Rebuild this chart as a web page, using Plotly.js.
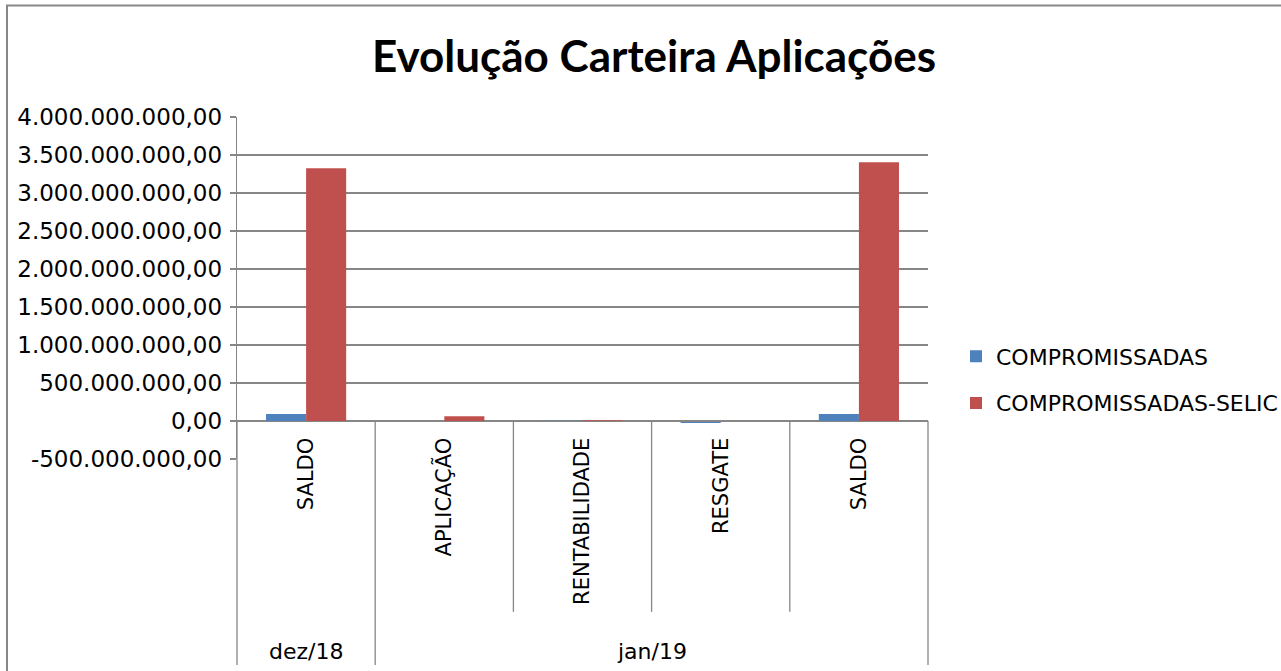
<!DOCTYPE html>
<html>
<head>
<meta charset="utf-8">
<script src="https://cdn.plot.ly/plotly-3.0.1.min.js"></script>
<style>
  html, body { margin: 0; padding: 0; background: #ffffff; }
  #chart { width: 1281px; height: 671px; }
</style>
</head>
<body>
<div id="chart"></div>
<script>
// ---- data ----
const categories = ['SALDO', 'APLICAÇÃO', 'RENTABILIDADE', 'RESGATE', 'SALDO'];
const groupLabels = ['dez/18', 'jan/19'];
const groupSizes = [1, 4];
const seriesNames = ['COMPROMISSADAS', 'COMPROMISSADAS-SELIC'];
const compromissadas = [92000000, 0, 4000000, -25000000, 92000000];
const compromissadasSelic = [3325000000, 62000000, 9000000, -4000000, 3404000000];
const yTickValues = [-500000000, 0, 500000000, 1000000000, 1500000000, 2000000000, 2500000000, 3000000000, 3500000000, 4000000000];
const yTickLabels = ['-500.000.000,00', '0,00', '500.000.000,00', '1.000.000.000,00', '1.500.000.000,00',
  '2.000.000.000,00', '2.500.000.000,00', '3.000.000.000,00', '3.500.000.000,00', '4.000.000.000,00'];
const colors = ['#4F81BD', '#C0504D'];

// ---- build ----
const xIdx = categories.map((c, i) => i);
const yMin = yTickValues[0];
const yMax = yTickValues[yTickValues.length - 1];
const zeroFrac = (0 - yMin) / (yMax - yMin);
const n = categories.length;
const gridColor = '#868686';
const fontFam = 'DejaVu Sans, sans-serif';

const traces = [compromissadas, compromissadasSelic].map((vals, k) => ({
  type: 'bar',
  name: seriesNames[k],
  x: xIdx,
  y: vals,
  marker: { color: colors[k], line: { width: 0 } },
  legendgroup: 'g' + k,
  hoverinfo: 'x+y+name'
}));

const shapes = [];
const annotations = [];
// category dividers
let start = 0;
const groupBounds = new Set([0]);
groupSizes.forEach(s => { start += s; groupBounds.add(start); });
for (let i = 0; i <= n; i++) {
  const isGroup = groupBounds.has(i);
  shapes.push({
    type: 'line', xref: 'paper', yref: 'paper',
    x0: i / n, x1: i / n,
    y0: zeroFrac, y1: isGroup ? -0.602 : -0.447,
    line: { color: gridColor, width: 1.3 }
  });
}
// group labels
start = 0;
groupLabels.forEach((g, k) => {
  const center = (start + groupSizes[k] / 2) / n;
  start += groupSizes[k];
  annotations.push({
    text: g, xref: 'paper', yref: 'paper', x: center, y: -0.564,
    xanchor: 'center', yanchor: 'middle', showarrow: false,
    font: { family: fontFam, size: 22, color: '#000000' }
  });
});
// outer frame
shapes.push({
  type: 'rect', xref: 'paper', yref: 'paper',
  x0: (7 - 237) / 691, x1: (1290 - 237) / 691,
  y0: -0.75, y1: (459 - 5.5) / 342,
  line: { color: '#878787', width: 2 }, fillcolor: 'rgba(0,0,0,0)', layer: 'below'
});

const layout = {
  width: 1281, height: 671,
  margin: { l: 237, r: 353, t: 117, b: 212, autoexpand: false },
  paper_bgcolor: '#ffffff', plot_bgcolor: '#ffffff',
  font: { family: fontFam, size: 21, color: '#000000' },
  title: {
    text: 'Evolução Carteira Aplicações',
    font: { family: 'Lato, sans-serif', size: 44, color: '#000000', weight: 'bold' },
    x: 654 / 1281, xanchor: 'center', xref: 'container',
    y: 1 - 57 / 671, yanchor: 'middle', yref: 'container'
  },
  barmode: 'group', bargap: 0.42, bargroupgap: 0,
  showlegend: true,
  legend: {
    x: (956 - 237) / 691, xanchor: 'left',
    y: (459 - 380) / 342, yanchor: 'middle',
    font: { family: fontFam, size: 22, color: '#000000' },
    tracegroupgap: 15, traceorder: 'grouped',
    bgcolor: 'rgba(0,0,0,0)'
  },
  xaxis: {
    type: 'linear',
    range: [-0.5, n - 0.5],
    tickvals: xIdx, ticktext: categories,
    tickangle: -90,
    anchor: 'free', position: zeroFrac,
    showgrid: false, zeroline: false,
    showline: true, linecolor: gridColor, linewidth: 1.3,
    ticks: '', tickfont: { family: fontFam, size: 21, color: '#000000' },
    ticklabelstandoff: 7,
    automargin: false,
    fixedrange: true
  },
  yaxis: {
    range: [yMin, yMax],
    tickvals: yTickValues, ticktext: yTickLabels,
    showgrid: true, gridcolor: gridColor, gridwidth: 1.3,
    zeroline: false,
    showline: true, linecolor: gridColor, linewidth: 1.3,
    ticks: 'outside', ticklen: 6, tickcolor: gridColor, tickwidth: 1.3,
    tickfont: { family: fontFam, size: 23, color: '#000000' },
    ticklabelstandoff: 3,
    automargin: false,
    fixedrange: true
  },
  shapes: shapes,
  annotations: annotations
};

Plotly.newPlot('chart', traces, layout, { displayModeBar: false, staticPlot: true });
</script>
</body>
</html>
